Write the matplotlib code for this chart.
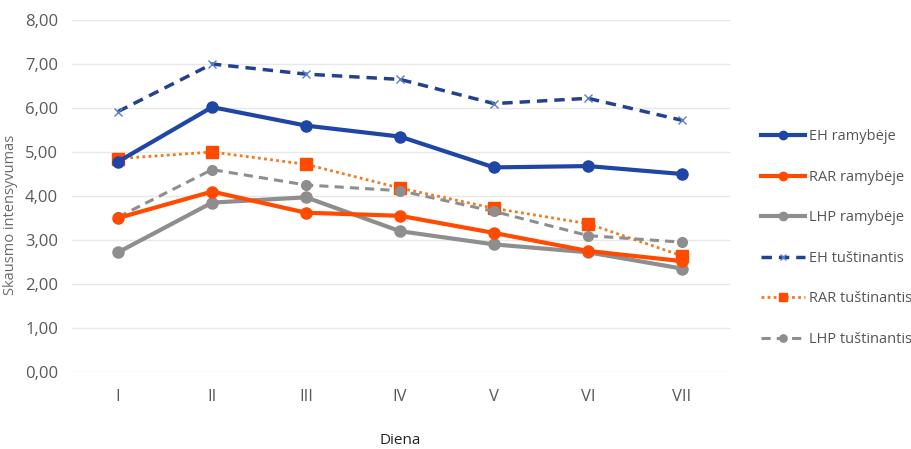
import matplotlib.pyplot as plt
import numpy as np

plt.rcParams['font.family'] = ['Open Sans', 'DejaVu Sans']

days = ['I', 'II', 'III', 'IV', 'V', 'VI', 'VII']
eh_ramybeje = [4.78, 6.02, 5.60, 5.35, 4.65, 4.68, 4.50]
rar_ramybeje = [3.50, 4.10, 3.62, 3.55, 3.16, 2.75, 2.52]
lhp_ramybeje = [2.72, 3.85, 3.97, 3.20, 2.90, 2.72, 2.35]
eh_tustinantis = [5.92, 7.00, 6.77, 6.65, 6.10, 6.22, 5.72]
rar_tustinantis = [4.85, 5.00, 4.72, 4.18, 3.72, 3.37, 2.64]
lhp_tustinantis = [3.52, 4.60, 4.25, 4.12, 3.65, 3.10, 2.95]

blue = '#1f45a5'
orange = '#ff4a00'
gray = '#8e8e8e'

fig = plt.figure(figsize=(9.11, 4.49), dpi=100)
ax = fig.add_axes([72 / 911, 1 - 372 / 449, (730 - 72) / 911, (372 - 20) / 449])

x = np.arange(len(days))
ax.plot(x, eh_ramybeje, color=blue, lw=3, marker='o', ms=8, label='EH ramybėje', zorder=5)
ax.plot(x, rar_ramybeje, color=orange, lw=3, marker='o', ms=8, label='RAR ramybėje', zorder=5)
ax.plot(x, lhp_ramybeje, color=gray, lw=3, marker='o', ms=8, label='LHP ramybėje', zorder=4)
ax.plot(x, eh_tustinantis, color='#23418f', lw=2.5, ls=(0, (3, 2)), marker='x', ms=6,
        mew=1, mec='#5a7fc0', label='EH tuštinantis', zorder=3)
ax.plot(x, rar_tustinantis, color='#f07a20', lw=2, ls=(0, (1, 1.2)), marker='s', ms=8,
        mfc=orange, mec=orange, label='RAR tuštinantis', zorder=3)
ax.plot(x, lhp_tustinantis, color=gray, lw=2.2, ls=(0, (3, 2)), marker='o', ms=7,
        label='LHP tuštinantis', zorder=3)

ax.set_xlim(-0.49, 6.51)
ax.set_ylim(0, 8)
ax.set_yticks(np.arange(0, 9, 1))
ax.set_yticklabels([f'{v:.2f}'.replace('.', ',') for v in np.arange(0, 9, 1)])
ax.set_xticks(x)
ax.set_xticklabels(days)
ax.grid(axis='y', color='#e8e8e8', lw=1)
ax.set_axisbelow(True)
for s in ax.spines.values():
    s.set_visible(False)
ax.tick_params(length=0, labelsize=12, colors='#595959', pad=12)
ax.tick_params(axis='y', pad=10)

ax.set_ylabel('Skausmo intensyvumas', fontsize=10.5, color='#6a6a6a')
ax.yaxis.set_label_coords(-0.082, 0.445)
fig.text(400 / 911, 1 - 440 / 449, 'Diena', fontsize=11, color='#222222', ha='center', va='center')

fig.legend(loc='upper left', bbox_to_anchor=(748 / 911, 1 - 116 / 449), frameon=False,
           fontsize=10.5, labelspacing=1.75, handlelength=3, handletextpad=0.3,
           markerscale=0.75, labelcolor='#555555')

fig.savefig('out.png', dpi=100)
